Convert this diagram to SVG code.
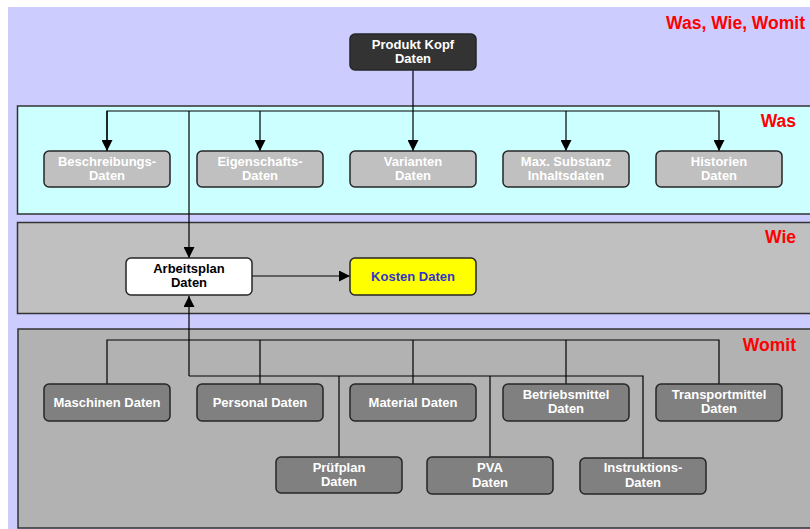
<svg xmlns="http://www.w3.org/2000/svg" width="810" height="529" viewBox="0 0 810 529">
<defs>
<marker id="ah" viewBox="0 0 10 10" refX="10" refY="5" markerWidth="11" markerHeight="11" markerUnits="userSpaceOnUse" orient="auto">
<path d="M0,0 L10,5 L0,10 z" fill="#000"/>
</marker>
<style>
.band{stroke:#333;stroke-width:1.5}
.node rect{stroke:#262626;stroke-width:1.5}
.t{font-family:"Liberation Sans",Arial,sans-serif;font-weight:bold;font-size:13px;text-anchor:middle}
.w{fill:#fff}
.lbl{font-family:"Liberation Sans",Arial,sans-serif;font-weight:bold;font-size:17.5px;fill:#ff0000;text-anchor:end}
.c{stroke:#000;stroke-width:1.2;fill:none}
.was rect{fill:#c0c0c0}
.wom rect{fill:#808080}
</style>
</defs>
<rect x="0" y="0" width="810" height="529" fill="#ffffff"/>
<rect x="8" y="7" width="810" height="530" fill="#ccccff"/>
<text class="lbl" x="805" y="29" font-size="18">Was, Wie, Womit</text>
<g id="band-was"><rect class="band" x="17.5" y="106" width="800" height="108" fill="#ccffff"/><text class="lbl" x="796" y="127">Was</text></g>
<g id="band-wie"><rect class="band" x="17.5" y="222.5" width="800" height="91" fill="#c0c0c0"/><text class="lbl" x="796" y="243">Wie</text></g>
<g id="band-womit"><rect class="band" x="18" y="329" width="800" height="199" fill="#b2b2b2"/><text class="lbl" x="796" y="351">Womit</text></g>

<g id="connectors">
<line class="c" x1="413" y1="70" x2="413" y2="151" marker-end="url(#ah)"/>
<polyline class="c" points="107,151 107,111 719,111 719,151" marker-end="url(#ah)"/>
<line class="c" x1="107" y1="111" x2="107" y2="151" marker-end="url(#ah)"/>
<line class="c" x1="260" y1="111" x2="260" y2="151" marker-end="url(#ah)"/>
<line class="c" x1="566" y1="111" x2="566" y2="151" marker-end="url(#ah)"/>
<line class="c" x1="189" y1="111" x2="189" y2="258" marker-end="url(#ah)"/>
<line class="c" x1="252" y1="276" x2="350" y2="276" marker-end="url(#ah)"/>
<line class="c" x1="189" y1="376" x2="189" y2="296" marker-end="url(#ah)"/>
<polyline class="c" points="107,384 107,340 719,340 719,384"/>
<line class="c" x1="260" y1="340" x2="260" y2="384"/>
<line class="c" x1="413" y1="340" x2="413" y2="384"/>
<line class="c" x1="566" y1="340" x2="566" y2="384"/>
<polyline class="c" points="189,376 643,376 643,458"/>
<line class="c" x1="339" y1="376" x2="339" y2="457"/>
<line class="c" x1="490" y1="376" x2="490" y2="457"/>
</g>

<g id="produkt-kopf" class="node"><rect x="350" y="34" width="126" height="36" rx="5" fill="#333333"/><text class="t w" x="413" y="49">Produkt Kopf</text><text class="t w" x="413" y="63">Daten</text></g>

<g id="beschreibungs" class="node was"><rect x="44" y="151" width="126" height="36" rx="5"/><text class="t w" x="107" y="166">Beschreibungs-</text><text class="t w" x="107" y="180">Daten</text></g>
<g id="eigenschafts" class="node was"><rect x="197" y="151" width="126" height="36" rx="5"/><text class="t w" x="260" y="166">Eigenschafts-</text><text class="t w" x="260" y="180">Daten</text></g>
<g id="varianten" class="node was"><rect x="350" y="151" width="126" height="36" rx="5"/><text class="t w" x="413" y="166">Varianten</text><text class="t w" x="413" y="180">Daten</text></g>
<g id="substanz" class="node was"><rect x="503" y="151" width="126" height="36" rx="5"/><text class="t w" x="566" y="166">Max. Substanz</text><text class="t w" x="566" y="180">Inhaltsdaten</text></g>
<g id="historien" class="node was"><rect x="656" y="151" width="126" height="36" rx="5"/><text class="t w" x="719" y="166">Historien</text><text class="t w" x="719" y="180">Daten</text></g>

<g id="arbeitsplan" class="node"><rect x="126" y="258" width="126" height="37" rx="5" fill="#ffffff"/><text class="t" x="189" y="273" fill="#000">Arbeitsplan</text><text class="t" x="189" y="287" fill="#000">Daten</text></g>
<g id="kosten" class="node"><rect x="350" y="258" width="126" height="37" rx="5" fill="#ffff00"/><text class="t" x="413" y="281" fill="#3333cc">Kosten Daten</text></g>

<g id="maschinen" class="node wom"><rect x="44" y="384" width="126" height="37" rx="5"/><text class="t w" x="107" y="407">Maschinen Daten</text></g>
<g id="personal" class="node wom"><rect x="197" y="384" width="126" height="37" rx="5"/><text class="t w" x="260" y="407">Personal Daten</text></g>
<g id="material" class="node wom"><rect x="350" y="384" width="126" height="37" rx="5"/><text class="t w" x="413" y="407">Material Daten</text></g>
<g id="betriebsmittel" class="node wom"><rect x="503" y="384" width="126" height="37" rx="5"/><text class="t w" x="566" y="399">Betriebsmittel</text><text class="t w" x="566" y="413">Daten</text></g>
<g id="transportmittel" class="node wom"><rect x="656" y="384" width="126" height="37" rx="5"/><text class="t w" x="719" y="399">Transportmittel</text><text class="t w" x="719" y="413">Daten</text></g>

<g id="pruefplan" class="node wom"><rect x="276" y="457" width="126" height="36" rx="5"/><text class="t w" x="339" y="472">Prüfplan</text><text class="t w" x="339" y="486">Daten</text></g>
<g id="pva" class="node wom"><rect x="427" y="457" width="126" height="37" rx="5"/><text class="t w" x="490" y="472">PVA</text><text class="t w" x="490" y="487">Daten</text></g>
<g id="instruktions" class="node wom"><rect x="580" y="458" width="126" height="36" rx="5"/><text class="t w" x="643" y="472">Instruktions-</text><text class="t w" x="643" y="487">Daten</text></g>
</svg>
